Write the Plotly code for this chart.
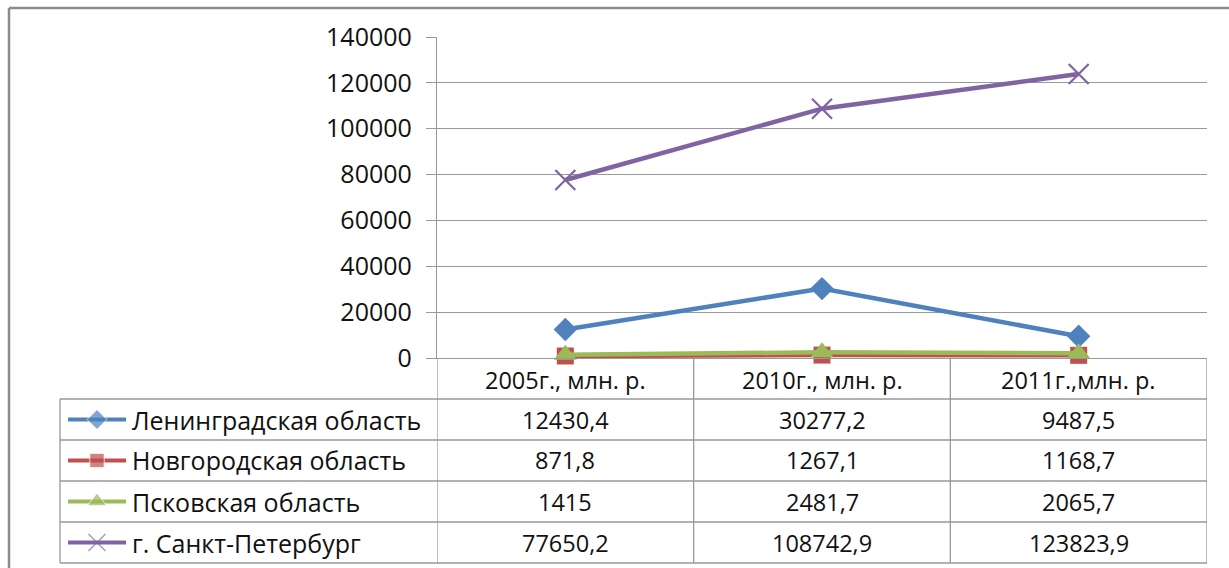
import plotly.graph_objects as go

# data
categories = ["2005г., млн. р.", "2010г., млн. р.", "2011г.,млн. р."]
series_names = ["Ленинградская область", "Новгородская область",
                "Псковская область", "г. Санкт-Петербург"]
leningrad = [12430.4, 30277.2, 9487.5]
novgorod = [871.8, 1267.1, 1168.7]
pskov = [1415, 2481.7, 2065.7]
spb = [77650.2, 108742.9, 123823.9]
series_values = [leningrad, novgorod, pskov, spb]
y_ticks = [0, 20000, 40000, 60000, 80000, 100000, 120000, 140000]

colors = ["#4F81BD", "#C0504D", "#9BBB59", "#8064A2"]
symbols = ["diamond", "square", "triangle-up", "x-thin-open"]
marker_sizes = [18, 17, 20, 20]

W, H = 1229, 568
FONT = "Open Sans"
GRID = "#999999"
TXT = "#111111"

# layout in pixels
plot_l, plot_r = 437, 1207
plot_t, plot_b = 37, 358
tab_l = 60
row_edges = [399, 440, 481, 522, 563]


def px(x):
    return x / W


def py(y):
    return 1 - y / H


fig = go.Figure()

# main series
for name, vals, c, s, ms in zip(series_names, series_values, colors, symbols, marker_sizes):
    marker = dict(symbol=s, size=ms, color=c)
    if s.startswith("x"):
        marker["line"] = dict(color=c, width=2.2)
    fig.add_trace(go.Scatter(
        x=list(range(len(categories))), y=vals, mode="lines+markers",
        name=name, line=dict(color=c, width=4.5), marker=marker,
        showlegend=False, cliponaxis=False,
    ))

# legend keys inside the data table (pixel axis)
for i, (c, s, ms) in enumerate(zip(colors, symbols, marker_sizes)):
    yc = (row_edges[i] + row_edges[i + 1]) / 2
    marker = dict(symbol=s, size=[0, ms * 0.85, 0], color=c)
    if s.startswith("x"):
        marker["line"] = dict(color=c, width=1.3)
    fig.add_trace(go.Scatter(
        x=[68, 97, 126], y=[yc, yc, yc], mode="lines+markers",
        line=dict(color=c, width=4), marker=marker,
        xaxis="x2", yaxis="y2", showlegend=False, hoverinfo="skip",
    ))

shapes = []
line_style = dict(color=GRID, width=1.3)
# horizontal table lines
for y in row_edges:
    shapes.append(dict(type="line", xref="paper", yref="paper",
                       x0=px(tab_l), x1=px(plot_r), y0=py(y), y1=py(y), line=line_style))
# left border of legend column
shapes.append(dict(type="line", xref="paper", yref="paper",
                   x0=px(tab_l), x1=px(tab_l), y0=py(row_edges[0]), y1=py(row_edges[-1]),
                   line=line_style))
# category separators and outer edges through header + table
for xv in [-0.5, 0.5, 1.5, 2.5]:
    shapes.append(dict(type="line", xref="x", yref="paper",
                       x0=xv, x1=xv, y0=py(plot_b), y1=py(row_edges[-1]), line=line_style))
# outer chart frame (top and left)
shapes.append(dict(type="line", xref="paper", yref="paper",
                   x0=px(9), x1=1.0, y0=py(8), y1=py(8), line=dict(color="#8c8c8c", width=2.5)))
shapes.append(dict(type="line", xref="paper", yref="paper",
                   x0=px(9), x1=px(9), y0=py(8), y1=0.0, line=dict(color="#8c8c8c", width=2.5)))

annotations = []
cell_font = dict(size=23.5, color=TXT, family=FONT)
name_font = dict(size=25, color=TXT, family=FONT)
# header row
for i, cat in enumerate(categories):
    annotations.append(dict(x=i, y=py((plot_b + row_edges[0]) / 2 + 1), xref="x", yref="paper",
                            text=cat, showarrow=False, xanchor="center", yanchor="middle",
                            font=cell_font))
# table rows
for r, (name, vals) in enumerate(zip(series_names, series_values)):
    yc = py((row_edges[r] + row_edges[r + 1]) / 2)
    annotations.append(dict(x=px(130), y=yc, xref="paper", yref="paper", text=name,
                            xanchor="left", yanchor="middle", showarrow=False, font=name_font))
    for i, v in enumerate(vals):
        annotations.append(dict(x=i, y=yc, xref="x", yref="paper",
                                text=str(v).replace(".", ","), showarrow=False,
                                xanchor="center", yanchor="middle", font=cell_font))

fig.update_layout(
    width=W, height=H, autosize=False,
    margin=dict(l=0, r=0, t=0, b=0, pad=0),
    paper_bgcolor="white", plot_bgcolor="rgba(0,0,0,0)",
    xaxis=dict(domain=[px(plot_l), px(plot_r)], range=[-0.5, 2.5],
               showgrid=False, zeroline=False, showticklabels=False,
               showline=True, linecolor=GRID, linewidth=1.3, automargin=False),
    yaxis=dict(domain=[py(plot_b), py(plot_t)], range=[0, 140000],
               tickvals=y_ticks, tickformat="d", ticks="outside", ticklen=10, tickcolor=GRID,
               showgrid=True, gridcolor=GRID, gridwidth=1.3, zeroline=False,
               showline=True, linecolor=GRID, linewidth=1.3, automargin=False,
               tickfont=dict(size=25, color=TXT, family=FONT), ticklabelstandoff=9),
    xaxis2=dict(domain=[0, 1], range=[0, W], visible=False, anchor="y2", automargin=False),
    yaxis2=dict(domain=[0, 1], range=[H, 0], visible=False, anchor="x2", automargin=False),
    shapes=shapes,
    annotations=annotations,
)

fig.write_html("out.html", config={"displayModeBar": False},
               post_script="document.body.style.margin='0';")
